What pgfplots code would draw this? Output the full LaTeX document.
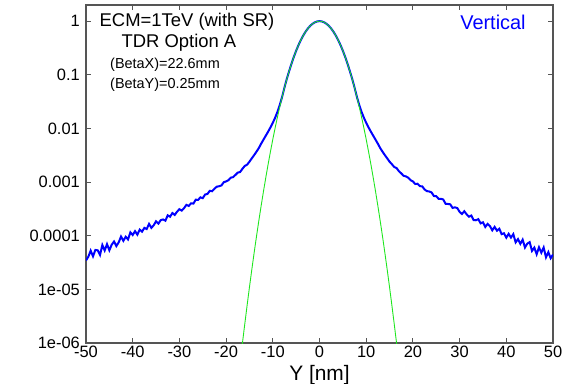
\documentclass[border=0pt]{standalone}
\usepackage{fontspec}
\setmainfont{Liberation Sans}
\usepackage{pgfplots}
\pgfplotsset{compat=1.18}
\definecolor{gline}{RGB}{30,230,30}
\definecolor{axgray}{RGB}{85,85,85}
\begin{document}
\begin{tikzpicture}
\begin{axis}[
  scale only axis=true,
  width=467bp, height=338bp,
  xmin=-50, xmax=50,
  ymode=log, ymin=1e-6, ymax=2,
  axis line style={axgray, line width=1.2pt},
  tick style={axgray, line width=1pt},
  major tick length=5bp,
  tick align=inside,
  xtick pos=both, ytick pos=both,
  yminorticks=false, xminorticks=false,
  xtick={-50,-40,-30,-20,-10,0,10,20,30,40,50},
  xticklabels={-50,-40,-30,-20,-10,0,10,20,30,40,50},
  ytick={1e-6,1e-5,1e-4,1e-3,1e-2,1e-1,1},
  yticklabels={1e-06,1e-05,0.0001,0.001,0.01,0.1,1},
  /pgf/number format/assume math mode=true,
  ticklabel style={font=\fontsize{16.5}{18}\selectfont},
  xticklabel style={inner sep=1pt, yshift=-2bp},
  yticklabel style={inner sep=2pt, xshift=-4bp},
  xlabel={Y [nm]},
  xlabel style={font=\fontsize{21}{24}\selectfont, at={(axis description cs:0.5,0)}, anchor=base, yshift=-37bp},
  clip=true,
]
\addplot[blue, line width=2pt] coordinates {
(-50,3.46e-5) (-49.5,4.06e-5) (-49,5.27e-5) (-48.5,4.13e-5) (-48,5.43e-5) (-47.5,5.35e-5) (-47,4.37e-5) (-46.5,6.70e-5) (-46,5.30e-5) (-45.5,6.97e-5) (-45,5.35e-5) (-44.5,6.79e-5) (-44,7.80e-5) (-43.5,6.41e-5) (-43,7.52e-5) (-42.5,9.66e-5) (-42,8.04e-5) (-41.5,9.57e-5) (-41,8.53e-5) (-40.5,1.156e-4) (-40,1.03e-4) (-39.5,1.216e-4) (-39,1.047e-4) (-38.5,1.30e-4) (-38,1.19e-4) (-37.5,1.40e-4) (-37,1.334e-4) (-36.5,1.66e-4) (-36,1.40e-4) (-35.5,1.567e-4) (-35,1.86e-4) (-34.5,1.68e-4) (-34,1.95e-4) (-33.5,2.01e-4) (-33,1.905e-4) (-32.5,2.40e-4) (-32,2.26e-4) (-31.5,2.65e-4) (-31,2.44e-4) (-30.5,2.81e-4) (-30,3.12e-4) (-29.5,2.94e-4) (-29,3.27e-4) (-28.5,3.76e-4) (-28,3.59e-4) (-27.5,4.02e-4) (-27,3.97e-4) (-26.5,4.70e-4) (-26,4.65e-4) (-25.5,5.19e-4) (-25,5.01e-4) (-24.5,5.86e-4) (-24,6.00e-4) (-23.5,6.87e-4) (-23,6.75e-4) (-22.5,7.52e-4) (-22,8.20e-4) (-21.5,8.36e-4) (-21,8.65e-4) (-20.5,9.95e-4) (-20,1.028e-3) (-19.5,1.084e-3) (-19,1.208e-3) (-18.5,1.236e-3) (-18,1.36e-3) (-17.5,1.503e-3) (-17,1.54e-3) (-16.5,1.77e-3) (-16,2.0e-3) (-15.5,2.11e-3) (-15,2.40e-3) (-14.5,2.77e-3) (-14,3.18e-3) (-13.5,3.68e-3) (-13,4.3e-3) (-12.5,5.19e-3) (-12,6.17e-3) (-11.5,7.33e-3) (-11,8.71e-3) (-10.5,1.047e-2) (-10,1.274e-2) (-9.5,1.585e-2) (-9,2.04e-2) (-8.5,2.75e-2) (-8,3.89e-2) (-7.5,5.8e-2) (-7,8.4e-2) (-6.5,0.1171) (-6,0.1608) (-5.5,0.2153) (-5,0.2811) (-4.5,0.3578) (-4,0.4439) (-3.5,0.5370) (-3,0.6333) (-2.5,0.7281) (-2,0.8163) (-1.5,0.8921) (-1,0.9505) (-0.5,0.9874) (0,1)
(0.5,0.9874) (1,0.9505) (1.5,0.8921) (2,0.8163) (2.5,0.7281) (3,0.6333) (3.5,0.5370) (4,0.4439) (4.5,0.3578) (5,0.2811) (5.5,0.2153) (6,0.1608) (6.5,0.1171) (7,8.4e-2) (7.5,5.8e-2) (8,3.89e-2) (8.5,2.75e-2) (9,2.04e-2) (9.5,1.585e-2) (10,1.274e-2) (10.5,1.047e-2) (11,8.71e-3) (11.5,7.33e-3) (12,6.17e-3) (12.5,5.19e-3) (13,4.3e-3) (13.5,3.68e-3) (14,3.18e-3) (14.5,2.77e-3) (15,2.40e-3)
(15.5,2.158e-3) (16,1.907e-3) (16.5,1.828e-3) (17,1.594e-3) (17.5,1.455e-3) (18,1.312e-3) (18.5,1.276e-3) (19,1.205e-3) (19.5,1.086e-3) (20,1.028e-3) (20.5,9.20e-4) (21,9.31e-4) (21.5,8.39e-4) (22,8.32e-4) (22.5,7.28e-4) (23,6.78e-4) (23.5,6.68e-4) (24,6.40e-4) (24.5,5.50e-4) (25,5.45e-4) (25.5,4.88e-4) (26,4.88e-4) (26.5,4.73e-4) (27,3.94e-4) (27.5,3.91e-4) (28,3.85e-4) (28.5,3.30e-4) (29,3.38e-4) (29.5,3.28e-4) (30,2.79e-4) (30.5,2.54e-4) (31,2.86e-4) (31.5,2.51e-4) (32,2.26e-4) (32.5,2.38e-4) (33,1.96e-4) (33.5,1.94e-4) (34,2.04e-4) (34.5,1.70e-4) (35,1.78e-4) (35.5,1.46e-4) (36,1.66e-4) (36.5,1.51e-4) (37,1.26e-4) (37.5,1.46e-4) (38,1.24e-4) (38.5,1.35e-4) (39,1.07e-4) (39.5,1.11e-4) (40,9.20e-5) (40.5,1.084e-4) (41,9.25e-5) (41.5,1.07e-4) (42,7.53e-5) (42.5,8.63e-5) (43,7.05e-5) (43.5,8.43e-5) (44,6.03e-5) (44.5,7.13e-5) (45,7.60e-5) (45.5,5.21e-5) (46,6.00e-5) (46.5,4.52e-5) (47,6.08e-5) (47.5,4.82e-5) (48,6.03e-5) (48.5,3.96e-5) (49,4.95e-5) (49.5,3.81e-5) (50,4.44e-5)
};
\addplot[gline, line width=0.9pt] coordinates {
(-17,4.25e-7) (-16.5,9.95e-7) (-16,2.27e-6) (-15.5,5.05e-6) (-15,1.095e-5) (-14.5,2.32e-5) (-14,4.78e-5) (-13.5,9.61e-5) (-13,1.884e-4) (-12.5,3.59e-4) (-12,6.69e-4) (-11.5,1.215e-3) (-11,2.151e-3) (-10.5,3.712e-3) (-10,6.245e-3) (-9.5,1.024e-2) (-9,1.638e-2) (-8.5,2.554e-2) (-8,3.883e-2) (-7.5,5.755e-2) (-7,8.313e-2) (-6.5,0.1171) (-6,0.1608) (-5.5,0.2153) (-5,0.2811) (-4.5,0.3578) (-4,0.4439) (-3.5,0.5370) (-3,0.6333) (-2.5,0.7281) (-2,0.8163) (-1.5,0.8921) (-1,0.9505) (-0.5,0.9874) (0,1)
(0.5,0.9874) (1,0.9505) (1.5,0.8921) (2,0.8163) (2.5,0.7281) (3,0.6333) (3.5,0.5370) (4,0.4439) (4.5,0.3578) (5,0.2811) (5.5,0.2153) (6,0.1608) (6.5,0.1171) (7,8.313e-2) (7.5,5.755e-2) (8,3.883e-2) (8.5,2.554e-2) (9,1.638e-2) (9.5,1.024e-2) (10,6.245e-3) (10.5,3.712e-3) (11,2.151e-3) (11.5,1.215e-3) (12,6.69e-4) (12.5,3.59e-4) (13,1.884e-4) (13.5,9.61e-5) (14,4.78e-5) (14.5,2.32e-5) (15,1.095e-5) (15.5,5.05e-6) (16,2.27e-6) (16.5,9.95e-7) (17,4.25e-7)
};
\node[font=\fontsize{18.5}{20}\selectfont, anchor=center] at (axis description cs:0.2163,0.9497) {ECM=1TeV (with SR)};
\node[font=\fontsize{18.5}{20}\selectfont, anchor=center] at (axis description cs:0.199,0.8876) {TDR Option A};
\node[font=\fontsize{14.5}{16}\selectfont, anchor=west, inner sep=0pt] at (axis description cs:0.0514,0.8225) {(BetaX)=22.6mm};
\node[font=\fontsize{14.5}{16}\selectfont, anchor=west, inner sep=0pt] at (axis description cs:0.0514,0.7633) {(BetaY)=0.25mm};
\node[font=\fontsize{20}{22}\selectfont, text=blue, anchor=center] at (axis description cs:0.8715,0.9497) {Vertical};
\end{axis}
\pgfresetboundingbox
\path[use as bounding box] ([xshift=-86bp,yshift=-41bp]current axis.south west) rectangle ([xshift=17bp,yshift=5bp]current axis.north east);
\end{tikzpicture}
\end{document}
